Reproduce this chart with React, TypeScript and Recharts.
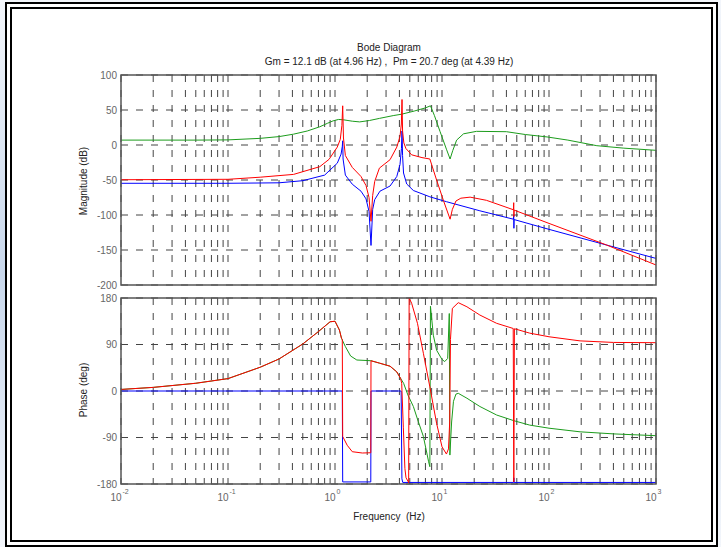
import { LineChart, Line, XAxis, YAxis, CartesianGrid } from "recharts";

const FONT = '"Liberation Sans", Arial, Helvetica, sans-serif';

const DECADES = [0.01, 0.1, 1, 10, 100, 1000];
const DECADE_EXPONENTS = ["-2", "-1", "0", "1", "2", "3"];
const MAG_TICKS = [-200, -150, -100, -50, 0, 50, 100];
const PHASE_TICKS = [-180, -90, 0, 90, 180];

// magnitude (dB)
const greenMagHz = [0.01, 0.05, 0.1, 0.2, 0.3, 0.41, 0.55, 0.72, 0.85, 0.96, 1.08, 1.2, 1.45, 1.7, 2.1, 2.6, 3.5, 4.2, 5.5, 7, 7.8, 8.5, 9.6, 11, 11.9, 12.6, 13.7, 15.9, 21, 40, 60, 96, 150, 280, 500, 1000];
const greenMagDb = [7, 7, 7.3, 9.5, 12, 15.5, 20, 26, 31, 34.5, 36.5, 36, 34, 33, 35, 38, 42, 44, 48.5, 53, 56, 42, 19, -6, -20, -8, 7, 16, 19.5, 19, 15, 11.5, 7, -1, -4.5, -7.6];

const redMagHz = [0.01, 0.1, 0.2, 0.41, 0.72, 0.88, 1.05, 1.12, 1.16, 1.18, 1.2, 1.25, 1.45, 1.75, 1.95, 2.08, 2.17, 2.25, 2.35, 2.6, 3.27, 3.78, 4.05, 4.17, 4.23, 4.28, 4.4, 4.6, 5.2, 6.5, 7.7, 8.9, 10.3, 11.9, 12.5, 13.5, 15, 18.3, 26, 46.5, 46.8, 47.0, 47.2, 100, 347, 1000];
const redMagDb = [-49.6, -49, -46, -42, -31, -20.5, -3, 8, 28, 56, 10, -15, -32, -45, -58, -75, -109, -72, -52, -33, -21, -3, 12, 30, 65, 20, 3, -5, -14, -18, -20, -50, -79, -106, -92, -80, -76, -74.5, -79, -92.5, -82.4, -102.4, -93, -112, -143, -171.4];

const blueMagHz = [0.01, 0.1, 0.3, 0.5, 0.8, 1.05, 1.14, 1.17, 1.18, 1.19, 1.25, 1.45, 1.75, 1.95, 2.08, 2.17, 2.25, 2.35, 2.63, 3.27, 3.78, 4.05, 4.18, 4.23, 4.28, 4.37, 4.68, 5.4, 7.7, 11, 22.6, 46.5, 46.8, 47.0, 47.2, 100, 347, 1000];
const blueMagDb = [-54.7, -54.7, -54, -51, -43, -26, -13, -2, 6, -20, -43, -56, -66, -77, -95, -143.5, -92, -78, -66, -58.6, -45, -28, -5, 20, -15, -40, -55.7, -65, -74, -81, -94, -106, -100, -119, -106.5, -120.5, -143, -162];

// phase (deg)
const greenPhaseHz = [0.01, 0.02, 0.05, 0.1, 0.2, 0.3, 0.5, 0.7, 0.9, 1.0, 1.1, 1.15, 1.25, 1.4, 1.6, 2.17, 2.6, 3.27, 3.78, 4.1, 4.38, 4.8, 5.4, 6.0, 6.7, 7.5, 7.7, 7.8, 8.3, 8.9, 10, 10.6, 11.3, 11.7, 11.85, 12.3, 12.8, 13.5, 14.2, 17.1, 22.6, 32.4, 47, 66, 100, 195, 400, 1000];
const greenPhaseDeg = [3, 7, 15, 24, 46, 62, 91, 115, 134, 135, 118, 102, 86, 67.7, 60, 58.6, 54, 48, 37, 24.5, 14.8, -7.7, -30, -59, -88, -137, -146.5, 164, 108, 79, 61, 57, 63, 150, -124, -60, -20, -6, -4.5, -14, -30, -46.5, -57.5, -66, -72, -79, -83, -86.5];

const redPhaseHz = [0.01, 0.02, 0.05, 0.1, 0.2, 0.3, 0.5, 0.7, 0.9, 1.0, 1.1, 1.15, 1.17, 1.18, 1.3, 1.45, 1.8, 2.16, 2.17, 2.6, 3.27, 3.78, 4.1, 4.2, 4.35, 4.5, 4.61, 4.85, 4.88, 4.93, 5.2, 5.9, 6.7, 7.7, 8.9, 10, 11, 11.5, 11.8, 12.0, 12.5, 14.2, 17.1, 22.6, 32.4, 46.3, 46.9, 47.5, 66, 100, 195, 400, 1000];
const redPhaseDeg = [3, 7, 15, 24, 46, 62, 91, 115, 134, 135, 118, 102, 100, -88, -105, -117.5, -120, -119.5, 58.6, 54, 48, 37, 24.5, 15, -70, -150, -168, -176, -178, 180, 170, 131, 73, 8, -62.5, -108, -122, -112, -60, 100, 160, 171, 163, 147, 131, 121, -176, 120.5, 112, 105, 97, 94, 93.5];

const bluePhaseHz = [0.01, 1.17, 1.18, 2.16, 2.17, 4.15, 4.22, 4.3, 46.6, 46.9, 47.2, 1000];
const bluePhaseDeg = [0, 0, -176, -176, 0, 0, -170, -177, -177, -168, -177, -177];

const pairs = (hz: number[], v: number[]) => hz.map((f, i) => ({ f, v: v[i] }));

const gridTicks: number[] = [];
DECADES.slice(0, -1).forEach((d) => {
  for (let k = 1; k < 10; k++) gridTicks.push(d * k);
});
gridTicks.push(DECADES[DECADES.length - 1]);

const GREEN = "#1c9c1c";
const RED = "#ff0000";
const BLUE = "#0000ff";

function FreqTick(props: any) {
  const { x, y, payload } = props;
  const i = DECADES.indexOf(payload.value);
  if (i < 0) return <g />;
  return (
    <g>
      <text x={x + 0.5} y={y + 17} textAnchor="end" fontSize={10} fill="#666">10</text>
      <text x={x + 1.5} y={y + 10} fontSize={7} fill="#666">{DECADE_EXPONENTS[i]}</text>
    </g>
  );
}

const yTick = { fill: "#666", fontSize: 10 };

export default function App() {
  return (
    <div
      style={{
        position: "absolute",
        left: 0,
        top: 0,
        width: 721,
        height: 547,
        overflow: "hidden",
        fontFamily: FONT,
        background: "linear-gradient(to bottom, #f3f6fb 0%, #c9d8ec 50%, #f3f6fb 100%)",
      }}
    >
      <div
        style={{
          position: "absolute",
          left: 5,
          top: 2,
          width: 713,
          height: 545,
          boxSizing: "border-box",
          border: "7px double #000",
          background: "#fff",
        }}
      />

      <div style={{ position: "absolute", left: 0, top: 0 }}>
        <LineChart width={721} height={295} margin={{ top: 75, right: 65, bottom: 10, left: 61 }}>
          <CartesianGrid stroke="#444" strokeDasharray="7 8" />
          <XAxis dataKey="f" type="number" scale="log" domain={[0.01, 1000]} ticks={gridTicks} interval={0} allowDataOverflow hide />
          <YAxis type="number" domain={[-200, 100]} ticks={MAG_TICKS} width={60} tick={yTick} tickSize={0} tickMargin={4} axisLine={false} tickLine={false} />
          <Line data={pairs(greenMagHz, greenMagDb)} dataKey="v" type="linear" stroke={GREEN} strokeWidth={1} dot={false} isAnimationActive={false} />
          <Line data={pairs(blueMagHz, blueMagDb)} dataKey="v" type="linear" stroke={BLUE} strokeWidth={1} dot={false} isAnimationActive={false} />
          <Line data={pairs(redMagHz, redMagDb)} dataKey="v" type="linear" stroke={RED} strokeWidth={1} dot={false} isAnimationActive={false} />
        </LineChart>
      </div>

      <div style={{ position: "absolute", left: 0, top: 288 }}>
        <LineChart width={721} height={259} margin={{ top: 10, right: 65, bottom: 33, left: 61 }}>
          <CartesianGrid stroke="#444" strokeDasharray="7 8" />
          <XAxis dataKey="f" type="number" scale="log" domain={[0.01, 1000]} ticks={gridTicks} interval={0} allowDataOverflow height={30} tickSize={0} tickMargin={0} axisLine={false} tickLine={false} tick={<FreqTick />} />
          <YAxis type="number" domain={[-180, 180]} ticks={PHASE_TICKS} width={60} tick={yTick} tickSize={0} tickMargin={4} axisLine={false} tickLine={false} />
          <Line data={pairs(greenPhaseHz, greenPhaseDeg)} dataKey="v" type="linear" stroke={GREEN} strokeWidth={1} dot={false} isAnimationActive={false} />
          <Line data={pairs(bluePhaseHz, bluePhaseDeg)} dataKey="v" type="linear" stroke={BLUE} strokeWidth={1} dot={false} isAnimationActive={false} />
          <Line data={pairs(redPhaseHz, redPhaseDeg)} dataKey="v" type="linear" stroke={RED} strokeWidth={1} dot={false} isAnimationActive={false} />
        </LineChart>
      </div>

      <svg width={721} height={547} style={{ position: "absolute", left: 0, top: 0, pointerEvents: "none" }}>
        <rect x={121} y={75} width={535} height={210} fill="none" stroke="#555" strokeWidth={1.5} />
        <rect x={121} y={298} width={535} height={186} fill="none" stroke="#555" strokeWidth={1.5} />
        <text x={389} y={51} textAnchor="middle" fontSize={10} fill="#222">Bode Diagram</text>
        <text x={389} y={65} textAnchor="middle" fontSize={10} fill="#222" style={{ whiteSpace: "pre" }}>
          Gm = 12.1 dB (at 4.96 Hz) ,  Pm = 20.7 deg (at 4.39 Hz)
        </text>
        <text transform="translate(87,181) rotate(-90)" textAnchor="middle" fontSize={10} fill="#222">Magnitude (dB)</text>
        <text transform="translate(87,390) rotate(-90)" textAnchor="middle" fontSize={10} fill="#222">Phase (deg)</text>
        <text x={389} y={520} textAnchor="middle" fontSize={10} fill="#222" style={{ whiteSpace: "pre" }}>Frequency  (Hz)</text>
      </svg>
    </div>
  );
}
